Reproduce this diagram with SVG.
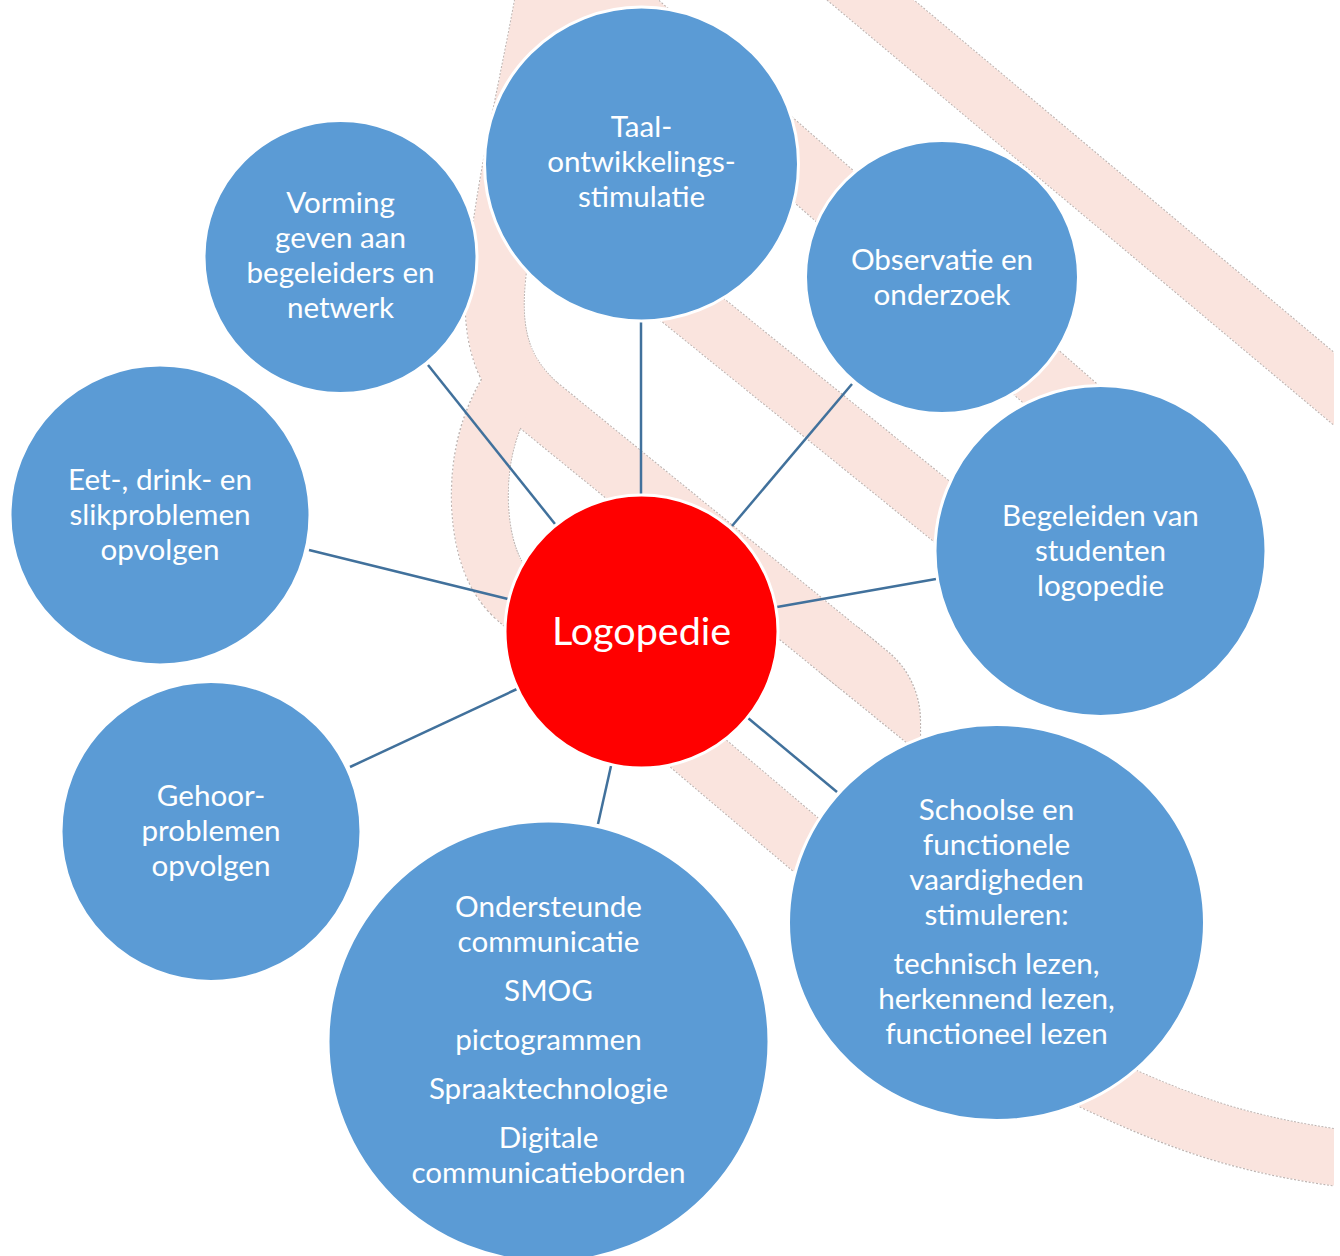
<svg xmlns="http://www.w3.org/2000/svg" width="1340" height="1256" viewBox="0 0 1340 1256">
<defs>
<style>
.edge{fill:none;stroke:#bdb3b0;stroke-dasharray:2 1.6;stroke-linejoin:round}
.band{fill:none;stroke:#fae4de;stroke-linejoin:round}
.link{stroke:#41719c;stroke-width:2.5;fill:none}
.node{fill:#5b9bd5;stroke:#ffffff;stroke-width:3}
.center{fill:#ff0000;stroke:#ffffff;stroke-width:3}
.lbl{font-family:Lato,"Open Sans",sans-serif;font-size:29.6px;fill:#ffffff;text-anchor:middle}
.big{font-size:39.5px}
</style>
<clipPath id="clip"><rect x="0" y="0" width="1334" height="1256"/></clipPath>
</defs>
<rect x="0" y="0" width="1340" height="1256" fill="#ffffff"/>
<g id="background" clip-path="url(#clip)">
  <g id="band-edges">
    <path class="edge" stroke-width="57" d="M 822.8,-40 L 1410,452.6"/>
    <path class="edge" stroke-width="64" d="M 565,-40 L 1150,472"/>
    <path class="edge" stroke-width="58" d="M 560,202.5 L 1040,591"/>
    <path class="edge" stroke-width="60" d="M 548,-20 C 531,80 505,180 496,280 C 490,340 505,375 537,404 L 860,667"/>
    <path class="edge" stroke-width="2.2" d="M 821.7,673.1 L 858.3,628.1 L 887,651.4 A 89.5 89.5 0 0 1 920,720.8 L 920,790 L 960,785.6 Z"/>
    <path class="edge" stroke-width="58" d="M 520,372 C 492,410 478,452 480,505 C 482,550 495,580 515,598 L 812,850 C 889,913 1009,1044 1100,1085 C 1190,1127 1260,1152 1400,1165"/>
  </g>
  <g id="band-fills">
    <path class="band" stroke-width="55" d="M 822.8,-40 L 1410,452.6"/>
    <path class="band" stroke-width="62" d="M 565,-40 L 1150,472"/>
    <path class="band" stroke-width="56" d="M 560,202.5 L 1040,591"/>
    <path class="band" stroke-width="58" d="M 548,-20 C 531,80 505,180 496,280 C 490,340 505,375 537,404 L 860,667"/>
    <path fill="#fae4de" d="M 821.7,673.1 L 858.3,628.1 L 887,651.4 A 89.5 89.5 0 0 1 920,720.8 L 920,790 L 960,785.6 Z"/>
    <path class="band" stroke-width="56" d="M 520,372 C 492,410 478,452 480,505 C 482,550 495,580 515,598 L 812,850 C 889,913 1009,1044 1100,1085 C 1190,1127 1260,1152 1400,1165"/>
    <path fill="#fae4de" d="M 540,-5 L 620,-5 L 600,30 L 552,30 Z"/>
  </g>
</g>
<g id="connectors">
  <line class="link" x1="641" y1="320" x2="641" y2="495"/>
  <line class="link" x1="428" y1="365" x2="555" y2="524"/>
  <line class="link" x1="852" y1="384" x2="732" y2="526"/>
  <line class="link" x1="309" y1="550" x2="508" y2="599"/>
  <line class="link" x1="936" y1="579" x2="777" y2="607"/>
  <line class="link" x1="350" y1="767" x2="517" y2="689"/>
  <line class="link" x1="611" y1="766" x2="598" y2="824"/>
  <line class="link" x1="748" y1="718" x2="837" y2="792"/>
</g>
<g id="node-taal">
  <circle class="node" cx="641.5" cy="164" r="157"/>
  <text class="lbl" x="641.5" y="137">Taal-</text>
  <text class="lbl" x="641.5" y="172">ontwikkelings-</text>
  <text class="lbl" x="641.5" y="207">stimulatie</text>
</g>
<g id="node-vorming">
  <circle class="node" cx="340.5" cy="257" r="136.5"/>
  <text class="lbl" x="340.5" y="213">Vorming</text>
  <text class="lbl" x="340.5" y="248">geven aan</text>
  <text class="lbl" x="340.5" y="283">begeleiders en</text>
  <text class="lbl" x="340.5" y="318">netwerk</text>
</g>
<g id="node-observatie">
  <circle class="node" cx="942" cy="277" r="136.5"/>
  <text class="lbl" x="942" y="270">Observatie en</text>
  <text class="lbl" x="942" y="305">onderzoek</text>
</g>
<g id="node-eet">
  <circle class="node" cx="160" cy="515" r="150"/>
  <text class="lbl" x="160" y="490">Eet-, drink- en</text>
  <text class="lbl" x="160" y="525">slikproblemen</text>
  <text class="lbl" x="160" y="560">opvolgen</text>
</g>
<g id="node-begeleiden">
  <circle class="node" cx="1100.5" cy="551" r="165.5"/>
  <text class="lbl" x="1100.5" y="526">Begeleiden van</text>
  <text class="lbl" x="1100.5" y="561">studenten</text>
  <text class="lbl" x="1100.5" y="596">logopedie</text>
</g>
<g id="node-logopedie">
  <circle class="center" cx="641.5" cy="631.5" r="136.5"/>
  <text class="lbl big" x="641.5" y="645">Logopedie</text>
</g>
<g id="node-gehoor">
  <circle class="node" cx="211" cy="831.5" r="150"/>
  <text class="lbl" x="211" y="806">Gehoor-</text>
  <text class="lbl" x="211" y="841">problemen</text>
  <text class="lbl" x="211" y="876">opvolgen</text>
</g>
<g id="node-ondersteunde">
  <circle class="node" cx="548.5" cy="1041.5" r="220.5"/>
  <text class="lbl" x="548.5" y="917">Ondersteunde</text>
  <text class="lbl" x="548.5" y="952">communicatie</text>
  <text class="lbl" x="548.5" y="1001">SMOG</text>
  <text class="lbl" x="548.5" y="1050">pictogrammen</text>
  <text class="lbl" x="548.5" y="1099">Spraaktechnologie</text>
  <text class="lbl" x="548.5" y="1148">Digitale</text>
  <text class="lbl" x="548.5" y="1183">communicatieborden</text>
</g>
<g id="node-schoolse">
  <ellipse class="node" cx="996.5" cy="922.5" rx="208" ry="198"/>
  <text class="lbl" x="996.5" y="820">Schoolse en</text>
  <text class="lbl" x="996.5" y="855">functionele</text>
  <text class="lbl" x="996.5" y="890">vaardigheden</text>
  <text class="lbl" x="996.5" y="925">stimuleren:</text>
  <text class="lbl" x="996.5" y="974">technisch lezen,</text>
  <text class="lbl" x="996.5" y="1009">herkennend lezen,</text>
  <text class="lbl" x="996.5" y="1044">functioneel lezen</text>
</g>
</svg>
